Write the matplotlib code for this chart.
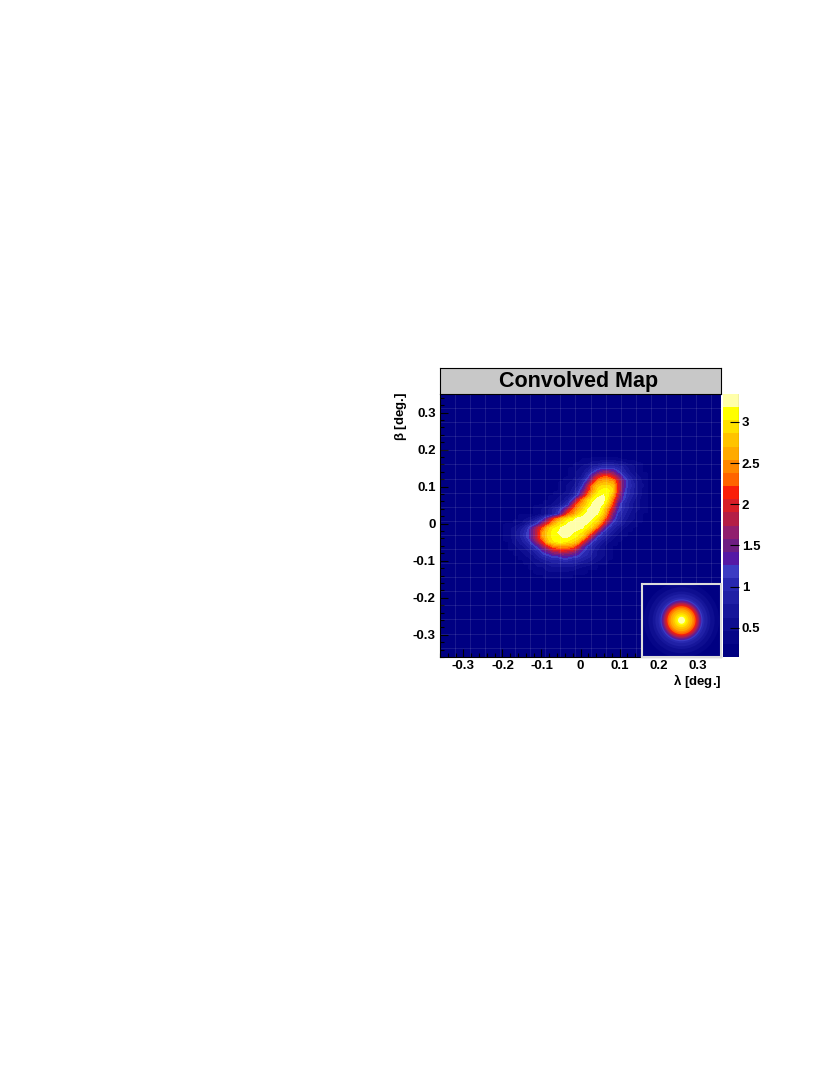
import numpy as np
import matplotlib
matplotlib.use('Agg')
import matplotlib.pyplot as plt
from matplotlib.colors import ListedColormap, BoundaryNorm
from matplotlib.patches import Circle
from matplotlib.ticker import MultipleLocator

plt.rcParams['font.family'] = ['Liberation Sans', 'DejaVu Sans']
plt.rcParams['font.weight'] = 'bold'
plt.rcParams['mathtext.default'] = 'regular'

W, H = 830, 1075

# map values in tenths, rows top to bottom
background = 2
first_row, first_col = 13, 11
blob_tenths = [
    [2]*17 + [3]*8 + [2]*6,
    [2]*15 + [3, 3, 4, 4, 5, 5, 6, 6, 6, 5, 5, 4, 4, 3, 3] + [2],
    [2]*14 + [3, 3, 4, 5, 6, 8, 9, 10, 10, 10, 9, 8, 6, 5, 4, 3, 3],
    [2]*13 + [3, 3, 4, 5, 6, 8, 11, 14, 16, 16, 15, 12, 9, 7, 5, 4, 3, 3],
    [2]*12 + [3, 3, 3, 4, 5, 7, 11, 16, 20, 22, 22, 20, 16, 12, 9, 7, 5, 4, 3],
    [2]*11 + [3, 3, 3, 4, 5, 7, 10, 14, 20, 25, 26, 26, 25, 20, 15, 11, 8, 6, 4, 3],
    [2]*10 + [3, 3, 3, 4, 5, 6, 8, 12, 19, 25, 28, 29, 29, 28, 21, 15, 11, 9, 6, 5, 3],
    [2]*9 + [3, 3, 3, 3, 4, 5, 7, 10, 15, 21, 26, 30, 31, 31, 29, 21, 14, 10, 8, 6, 4, 3],
    [2]*8 + [3, 3, 3, 3, 4, 5, 6, 8, 12, 18, 24, 29, 31, 32, 31, 27, 19, 13, 10, 8, 6, 4, 3],
    [2]*7 + [3, 3, 3, 3, 4, 5, 6, 8, 13, 20, 25, 29, 31, 33, 33, 30, 24, 17, 12, 9, 7, 5, 4, 3],
    [2]*6 + [3, 3, 3, 3, 4, 5, 6, 8, 11, 19, 24, 27, 30, 33, 33, 32, 28, 22, 14, 10, 8, 6, 5, 4, 3],
    [2]*5 + [3, 3, 3, 4, 5, 6, 8, 10, 13, 18, 23, 26, 29, 32, 33, 33, 30, 25, 19, 13, 10, 8, 6, 5, 4, 3],
    [2]*4 + [3, 3, 3, 3, 4, 5, 6, 8, 11, 17, 23, 25, 29, 31, 33, 33, 32, 29, 23, 16, 11, 9, 7, 5, 4, 3, 3],
    [2]*2 + [3, 3, 3, 4, 5, 6, 8, 11, 16, 21, 25, 28, 30, 31, 33, 33, 33, 32, 30, 26, 20, 14, 10, 8, 6, 5, 4, 3, 3],
    [2, 3, 3, 3, 4, 5, 7, 9, 12, 17, 21, 26, 29, 30, 32, 33, 33, 33, 32, 30, 28, 22, 16, 11, 9, 7, 5, 4, 3, 3, 2],
    [3, 3, 4, 5, 6, 8, 11, 15, 19, 23, 28, 30, 31, 33, 33, 33, 33, 32, 30, 28, 23, 16, 11, 9, 7, 5, 4, 3, 3, 2, 2],
    [3, 3, 4, 5, 7, 9, 12, 16, 20, 26, 29, 31, 32, 33, 33, 32, 31, 30, 27, 22, 16, 11, 9, 7, 5, 4, 3, 3, 2, 2, 2],
    [3, 3, 4, 5, 7, 9, 12, 16, 20, 26, 29, 31, 31, 32, 32, 31, 30, 28, 22, 16, 11, 9, 7, 5, 4, 3, 3, 2, 2, 2, 2],
    [3, 3, 3, 5, 6, 8, 10, 14, 18, 22, 28, 30, 31, 31, 30, 29, 27, 21, 16, 11, 9, 7, 5, 4, 3, 3] + [2]*5,
    [2, 3, 3, 4, 5, 6, 8, 10, 13, 17, 20, 24, 25, 25, 25, 24, 20, 15, 11, 9, 7, 5, 4, 3, 3] + [2]*6,
    [2, 3, 3, 3, 4, 5, 6, 8, 10, 13, 15, 18, 19, 20, 19, 18, 15, 12, 10, 8, 6, 5, 4, 3, 3] + [2]*6,
    [2, 2, 3, 3, 3, 4, 5, 6, 8, 10, 11, 13, 13, 14, 14, 13, 12, 10, 9, 7, 6, 5, 4, 3, 3] + [2]*6,
    [2, 2, 2, 3, 3, 3, 4, 5, 6, 7, 8, 9, 9, 10, 10, 9, 9, 8, 7, 6, 5, 4, 3, 3] + [2]*7,
    [2, 2, 2, 2, 3, 3, 3, 4, 5, 5, 6, 7, 7, 7, 7, 7, 6, 5, 5, 4, 3, 3, 3] + [2]*8,
    [2]*5 + [3, 3, 3, 4, 4, 5, 5, 5, 5, 5, 5, 4, 4, 3, 3, 3] + [2]*10,
    [2]*6 + [3, 3, 3, 3, 4, 4, 4, 4, 4, 3, 3, 3, 3] + [2]*12,
    [2]*9 + [3]*8 + [2]*14,
]

# point spread function in the corner: ring radius (deg.) and level
ring_radius = [0.097, 0.085, 0.074, 0.067, 0.059, 0.054, 0.051, 0.049, 0.046,
               0.044, 0.041, 0.038, 0.036, 0.032, 0.028, 0.023, 0.018, 0.013, 0.009]
ring_level = [0.35, 0.5, 0.65, 0.8, 1.0, 1.15, 1.35, 1.5, 1.7,
              1.85, 2.05, 2.2, 2.35, 2.5, 2.7, 2.85, 3.0, 3.15, 3.3]

# colour bands, bottom to top
band_colors = ['#000082', '#060688', '#0e0e90', '#16169a', '#2020a5', '#2828b0',
               '#3c3cc3', '#5519a5', '#6e1e82', '#911e6e', '#b41e46', '#d71e28',
               '#fa1e0a', '#ff6400', '#ff8700', '#ffaa00', '#ffc300', '#ffe100',
               '#ffff00', '#ffffaa']
levels = np.linspace(0.144, 3.34, len(band_colors) + 1)
bar_ticks = [0.5, 1, 1.5, 2, 2.5, 3]
bar_labels = ['0.5', '1', '1.5', '2', '2.5', '3']

x_ticks = [-0.3, -0.2, -0.1, 0, 0.1, 0.2, 0.3]
x_labels = ['-0.3', '-0.2', '-0.1', '0', '0.1', '0.2', '0.3']
y_ticks = [-0.3, -0.2, -0.1, 0, 0.1, 0.2, 0.3]
y_labels = ['-0.3', '-0.2', '-0.1', '0', '0.1', '0.2', '0.3']


def box(x0, y0, x1, y1):
    # pixel box (y from the top) to figure fractions
    return [x0 / W, 1 - y1 / H, (x1 - x0) / W, (y1 - y0) / H]


cmap = ListedColormap(band_colors)
norm = BoundaryNorm(levels, cmap.N)

grid = np.full((56, 56), background / 10)
blob = np.array(blob_tenths) / 10
grid[first_row:first_row + blob.shape[0], first_col:first_col + blob.shape[1]] = blob

fig = plt.figure(figsize=(W / 100, H / 100), dpi=100)
ax = fig.add_axes(box(440, 394, 721, 657))
im = ax.imshow(grid, extent=(-0.36, 0.36, -0.36, 0.35), aspect='auto',
               cmap=cmap, norm=norm, interpolation='bilinear')
ax.set_xlim(-0.36, 0.36)
ax.set_ylim(-0.36, 0.35)

# faint seams between the image tiles
x_edges = np.linspace(-0.36, 0.36, 57)[::3]
y_edges = np.linspace(0.35, -0.36, 57)[::3]
ax.vlines(x_edges, -0.36, 0.35, color='white', lw=0.8, alpha=0.1)
ax.hlines(y_edges, -0.36, 0.36, color='white', lw=0.8, alpha=0.1)

ax.set_xticks(x_ticks, x_labels)
ax.set_yticks(y_ticks, y_labels)
ax.xaxis.set_minor_locator(MultipleLocator(0.02))
ax.yaxis.set_minor_locator(MultipleLocator(0.02))
ax.tick_params(which='major', direction='in', length=6, width=0.8, labelsize=9.5)
ax.tick_params(axis='x', which='major', pad=2.5)
ax.tick_params(axis='y', which='major', pad=3)
ax.tick_params(which='minor', direction='in', length=3, width=0.8)
ax.spines['top'].set_visible(False)
ax.spines['right'].set_visible(False)

# title box
title_ax = fig.add_axes(box(440, 368, 721, 394))
title_ax.set_xticks([])
title_ax.set_yticks([])
title_ax.set_facecolor('#c8c8c8')
title_ax.text(0.493, 0.47, 'Convolved Map', ha='center', va='center', fontsize=15.5,
              transform=title_ax.transAxes)

fig.text(721 / W, 1 - 681 / H, r'$\lambda$ [deg.]', ha='right', va='center', fontsize=9.5)
fig.text(400.5 / W, 1 - 392 / H, r'$\beta$ [deg.]', ha='center', va='top', rotation=90, fontsize=9.5)

# colour bar
cax = fig.add_axes(box(723, 394, 739, 657))
cb = fig.colorbar(im, cax=cax, spacing='proportional', drawedges=False)
cb.set_ticks(bar_ticks, labels=bar_labels)
cb.minorticks_off()
cax.tick_params(direction='in', length=6.5, width=0.8, labelsize=9.5, pad=2)
cb.outline.set_visible(False)
cax.axvline(1, color='black', lw=0.8)

# inset
inset = fig.add_axes(box(642, 583.5, 721, 657))
inset.set_xlim(-0.1013, 0.1013)
inset.set_ylim(-0.0945, 0.0945)
inset.set_xticks([])
inset.set_yticks([])
inset.set_facecolor(cmap(norm(background / 10)))
for r, level in zip(ring_radius, ring_level):
    inset.add_patch(Circle((0, 0), r, facecolor=cmap(norm(level)), edgecolor='none'))
for s in inset.spines.values():
    s.set_color('#dcdcdc')
    s.set_linewidth(1.5)

fig.savefig('out.png', dpi=100)
